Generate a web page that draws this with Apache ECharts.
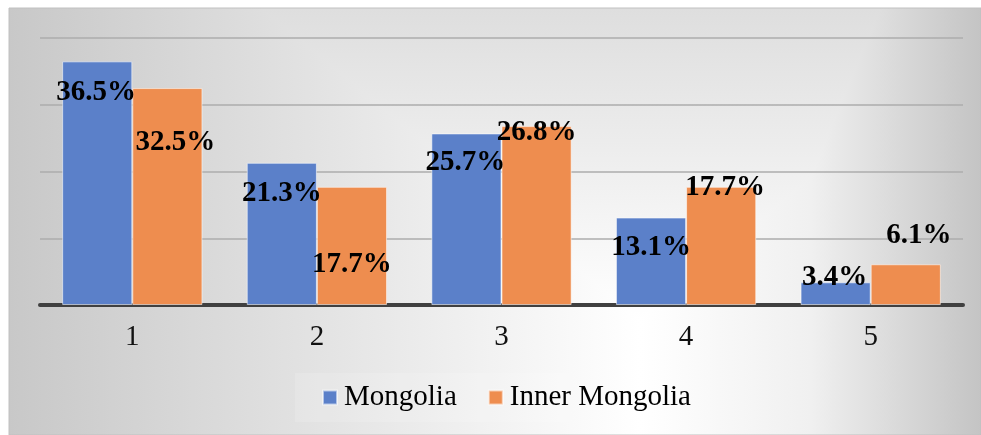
<!DOCTYPE html>
<html>
<head>
<meta charset="utf-8">
<script src="https://cdn.jsdelivr.net/npm/echarts@6/dist/echarts.min.js"></script>
<style>
  html, body { margin: 0; padding: 0; background: #ffffff; }
  #chart { width: 981px; height: 435px; }
</style>
</head>
<body>
<div id="chart"></div>
<script>
// Category labels and shares (%) for each region
const categories = ['1', '2', '3', '4', '5'];
const mongolia = [36.5, 21.3, 25.7, 13.1, 3.4];
const innerMongolia = [32.5, 17.7, 26.8, 17.7, 6.1];

// Value axis range (gridlines every 10%)
const yMin = 0;
const yMax = 40;
const yStep = 10;

// Hand-placed label nudges [dx, dy] in pixels, relative to the bar top
const mongoliaLabelShift = [[-1, 46], [0, 45], [-1, 44], [0, 44], [-1, 10]];
const innerLabelShift = [[8, 69], [0, 92], [0, 21], [4, 15], [13, -14]];

const serif = 'Liberation Serif';
const frame = { x: 9, y: 8, width: 972, height: 427 };

function withLabels(values, shifts) {
  return values.map((v, i) => ({ value: v, label: { offset: shifts[i] } }));
}

function grad(x, y, x2, y2, stops) {
  return {
    type: 'linear', x: x, y: y, x2: x2, y2: y2, global: true,
    colorStops: stops.map(s => ({ offset: s[0], color: s[1] }))
  };
}

const chart = echarts.init(document.getElementById('chart'), null, { renderer: 'canvas' });

const barLabel = {
  show: true,
  position: 'top',
  distance: 0,
  fontFamily: serif,
  fontWeight: 'bold',
  fontSize: 29,
  color: '#000000',
  formatter: p => p.value.toFixed(1) + '%'
};

chart.setOption({
  backgroundColor: '#ffffff',
  animation: false,
  graphic: [
    // chart area: white base, then edge shading combined with "darken"
    { type: 'rect', z: -20, shape: frame, style: { fill: '#ffffff' } },
    { type: 'rect', z: -19, shape: frame, style: {
        fill: grad(9, 0, 640, 0, [[0, '#c8c8c8'], [1, '#ffffff']]), blend: 'darken' } },
    { type: 'rect', z: -18, shape: frame, style: {
        fill: grad(640, 0, 981, 0, [[0, '#ffffff'], [0.5, '#f0f0f0'], [1, '#c4c4c4']]), blend: 'darken' } },
    { type: 'rect', z: -17, shape: frame, style: {
        fill: grad(0, 8, 0, 320, [[0, '#dedede'], [1, '#ffffff']]), blend: 'darken' } },
    { type: 'rect', z: -16, shape: frame, style: { fill: 'none', stroke: '#c0c0c0', lineWidth: 1 } }
  ],
  grid: { left: 40, right: 18, top: 38, bottom: 130, outerBoundsMode: 'none' },
  legend: {
    data: ['Mongolia', 'Inner Mongolia'],
    left: 295,
    top: 373,
    orient: 'horizontal',
    icon: 'rect',
    itemWidth: 14,
    itemHeight: 14,
    itemGap: 31,
    padding: [10, 12, 10, 27],
    backgroundColor: 'rgba(255,255,255,0.14)',
    textStyle: { fontFamily: serif, fontSize: 29, color: '#000000', padding: [0, 0, 0, 2] }
  },
  xAxis: {
    type: 'category',
    data: categories,
    axisTick: { show: false },
    axisLine: { show: true, lineStyle: { color: '#404040', width: 4 } },
    axisLabel: { fontFamily: serif, fontSize: 29, color: '#111111', margin: 18 }
  },
  yAxis: {
    type: 'value',
    min: yMin,
    max: yMax,
    interval: yStep,
    axisLabel: { show: false },
    axisLine: { show: false },
    axisTick: { show: false },
    splitLine: { show: true, lineStyle: { color: '#acacac', width: 1.5 } }
  },
  series: [
    {
      name: 'Mongolia',
      type: 'bar',
      barWidth: '38%',
      barGap: '0%',
      data: withLabels(mongolia, mongoliaLabelShift),
      itemStyle: { color: '#5b80c9', borderColor: 'rgba(255,255,255,0.55)', borderWidth: 1 },
      label: barLabel
    },
    {
      name: 'Inner Mongolia',
      type: 'bar',
      barWidth: '38%',
      barGap: '0%',
      data: withLabels(innerMongolia, innerLabelShift),
      itemStyle: { color: '#ee8d4f', borderColor: 'rgba(255,255,255,0.55)', borderWidth: 1 },
      label: barLabel
    }
  ]
});
</script>
</body>
</html>
